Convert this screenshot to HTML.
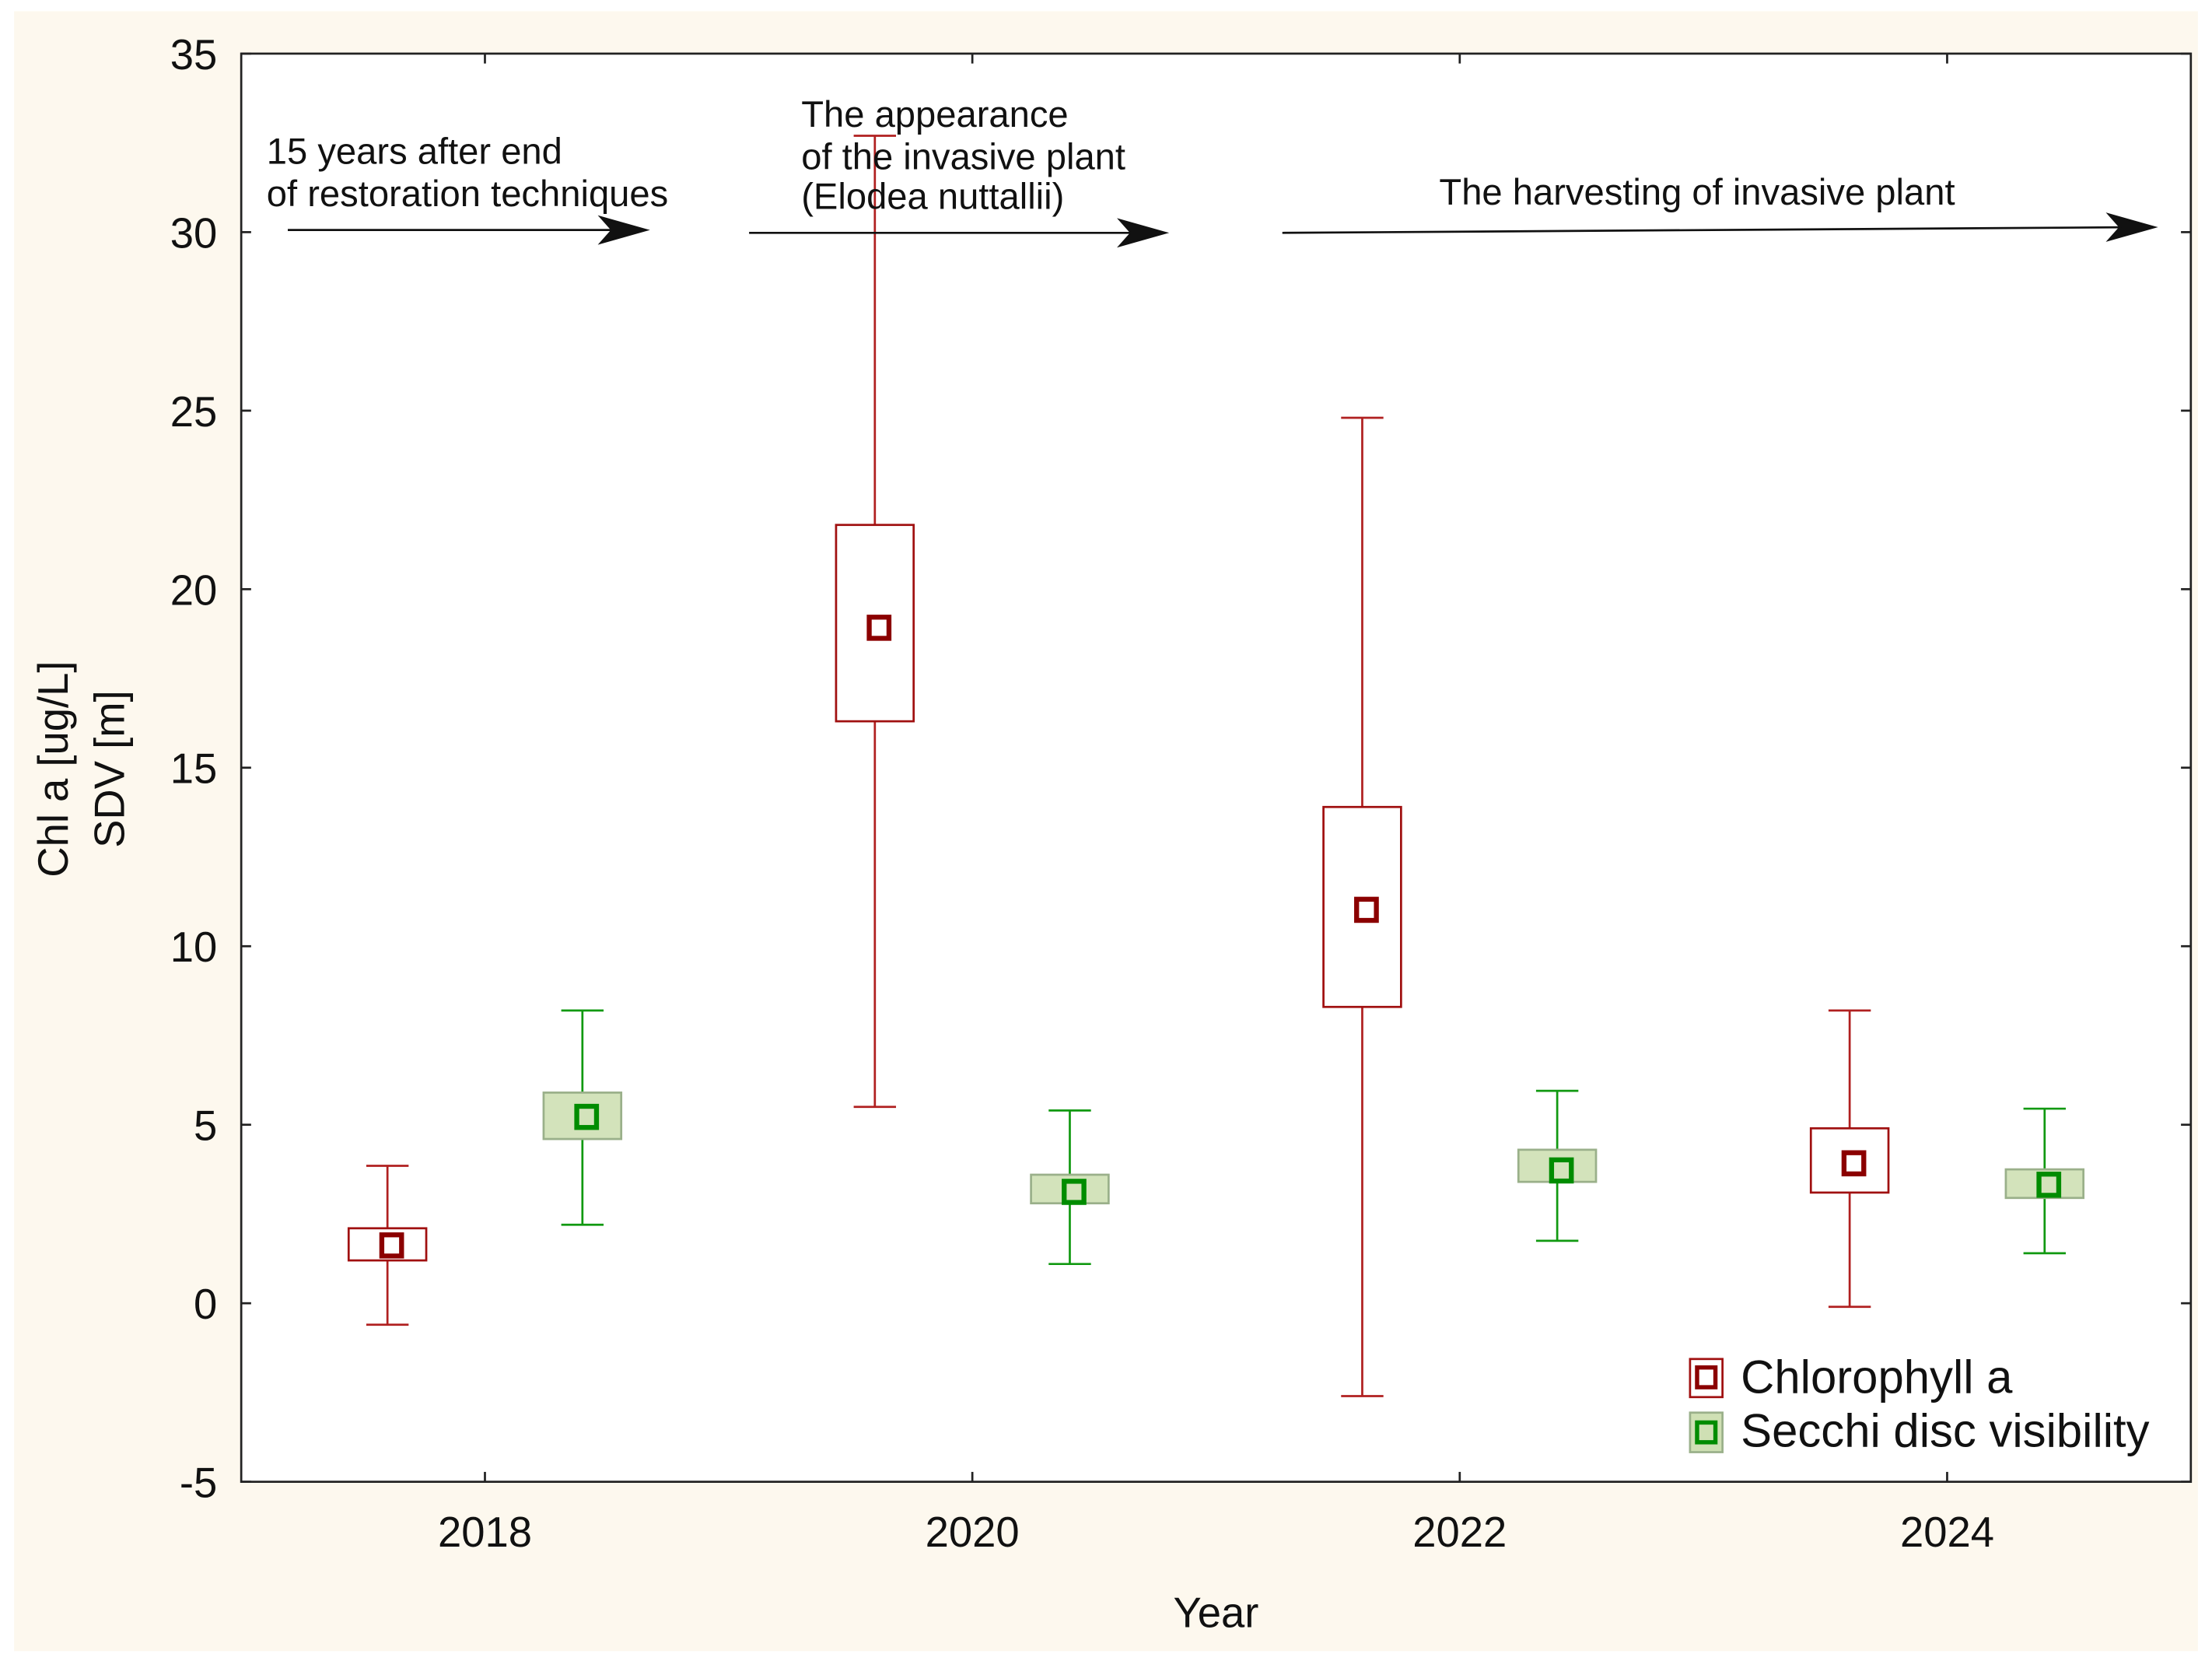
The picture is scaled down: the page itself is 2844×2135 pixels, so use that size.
<!DOCTYPE html>
<html><head><meta charset="utf-8"><style>
html,body{margin:0;padding:0;background:#fff;}
svg{display:block;font-family:"Liberation Sans",sans-serif;}
</style></head><body>
<svg id="chart" width="2844" height="2135" viewBox="0 0 1568 1177" preserveAspectRatio="none" xmlns="http://www.w3.org/2000/svg">
<rect x="10" y="8" width="1548" height="1162" fill="#fdf8ee"/>
<rect x="171" y="38" width="1382" height="1012" fill="#fff" stroke="#222" stroke-width="1.5"/>
<g id="axes"></g>
<g id="marks"></g>
<g font-size="26" fill="#111">
<text x="189" y="116">15 years after end</text>
<text x="189" y="146">of restoration techniques</text>
<text x="568" y="90">The appearance</text>
<text x="568" y="120">of the invasive plant</text>
<text x="568" y="148">(Elodea nuttallii)</text>
<text x="1203" y="145" text-anchor="middle">The harvesting of invasive plant</text>
<g stroke="#111" stroke-width="1.5" fill="#111">
<line x1="204" y1="163" x2="445" y2="163"/>
<polygon points="458,163 426,154 434,163 426,172"/>
<line x1="531" y1="165" x2="813" y2="165"/>
<polygon points="826,165 794,156 802,165 794,174"/>
<line x1="909" y1="165" x2="1514" y2="161"/>
<polygon points="1527,161 1495,152 1503,161 1495,170"/>
</g>
</g>
<g font-size="30" fill="#111">
<text transform="translate(48,545) rotate(-90)" text-anchor="middle">Chl a [ug/L]</text>
<text transform="translate(88,545) rotate(-90)" text-anchor="middle">SDV [m]</text>
</g>
<text x="862" y="1153" font-size="30" text-anchor="middle" fill="#111">Year</text>
<g>
<g>
<rect x="1198" y="963" width="23" height="27" fill="#fff" stroke="#a01010" stroke-width="1.5"/>
<rect x="1203" y="969" width="13" height="14" fill="#fff" stroke="#8b0000" stroke-width="3"/>
<text x="1234" y="987" font-size="33" fill="#111">Chlorophyll a</text>
</g>
<g>
<rect x="1198" y="1001" width="23" height="28" fill="#cfe0b4" stroke="#9ab08a" stroke-width="1.5"/>
<rect x="1203" y="1008" width="13" height="14" fill="#cfe0b4" stroke="#008c00" stroke-width="3"/>
<text x="1234" y="1025" font-size="33" fill="#111">Secchi disc visibility</text>
</g>
</g>
</svg>
<script>
const chlYears = [2017.6, 2019.6, 2021.6, 2023.6];
const chlMean = [1.6, 18.9, 11.0, 3.9];
const chlBoxLow = [1.2, 16.3, 8.3, 3.1];
const chlBoxHigh = [2.1, 21.8, 13.9, 4.9];
const chlWhiskLow = [-0.6, 5.5, -2.6, -0.1];
const chlWhiskHigh = [3.85, 32.7, 24.8, 8.2];
const sdvYears = [2018.4, 2020.4, 2022.4, 2024.4];
const sdvMean = [5.2, 3.1, 3.7, 3.3];
const sdvBoxLow = [4.6, 2.8, 3.4, 2.95];
const sdvBoxHigh = [5.9, 3.6, 4.3, 3.75];
const sdvWhiskLow = [2.2, 1.1, 1.75, 1.4];
const sdvWhiskHigh = [8.2, 5.4, 5.95, 5.45];
const yTicks = [-5, 0, 5, 10, 15, 20, 25, 30, 35];
const xTicks = [2018, 2020, 2022, 2024];

const NS = "http://www.w3.org/2000/svg";
const L = 171, R = 1553, T = 38, B = 1050;
const xS = v => L + (v - 2017) / 8 * (R - L);
const yS = v => B - (v + 5) / 40 * (B - T);
function mk(tag, attrs, parent) {
  const e = document.createElementNS(NS, tag);
  for (const k in attrs) e.setAttribute(k, attrs[k]);
  parent.appendChild(e);
  return e;
}
const axes = document.getElementById('axes');
const marks = document.getElementById('marks');
yTicks.forEach(v => {
  const y = yS(v);
  const l1 = mk('line', {x1: L, x2: L + 7, y1: y, y2: y, stroke: '#222', 'stroke-width': 1.5}, axes);
  
  
  const l2 = mk('line', {x1: R - 7, x2: R, y1: y, y2: y, stroke: '#222', 'stroke-width': 1.5}, axes);
  
  
  const t = mk('text', {x: 154, y: y + 11, 'font-size': 30, 'text-anchor': 'end', fill: '#111'}, axes);
  t.textContent = v;
  
  
});
xTicks.forEach(v => {
  const x = xS(v);
  const l1 = mk('line', {x1: x, x2: x, y1: B - 7, y2: B, stroke: '#222', 'stroke-width': 1.5}, axes);
  
  
  const l2 = mk('line', {x1: x, x2: x, y1: T, y2: T + 7, stroke: '#222', 'stroke-width': 1.5}, axes);
  
  
  const t = mk('text', {x: x, y: 1096, 'font-size': 30, 'text-anchor': 'middle', fill: '#111'}, axes);
  t.textContent = v;
  
  
});
function series(years, mean, bl, bh, wl, wh, lineCol, boxFill, boxStroke, markCol, name) {
  const hw = 27.5, cap = 15;
  years.forEach((yr, i) => {
    const x = xS(yr);
    const g = mk('g', {}, marks);
    
    
    mk('line', {x1: x, x2: x, y1: yS(wl[i]), y2: yS(wh[i]), stroke: lineCol, 'stroke-width': 1.5}, g);
    mk('line', {x1: x - cap, x2: x + cap, y1: yS(wl[i]), y2: yS(wl[i]), stroke: lineCol, 'stroke-width': 1.5}, g);
    mk('line', {x1: x - cap, x2: x + cap, y1: yS(wh[i]), y2: yS(wh[i]), stroke: lineCol, 'stroke-width': 1.5}, g);
    mk('rect', {x: x - hw, y: yS(bh[i]), width: 2 * hw, height: yS(bl[i]) - yS(bh[i]), fill: boxFill, stroke: boxStroke, 'stroke-width': 1.5}, g);
    mk('rect', {x: x - 7 + 3, y: yS(mean[i]) - 8, width: 14, height: 15, fill: boxFill, stroke: markCol, 'stroke-width': 3.5}, g);
  });
}
series(chlYears, chlMean, chlBoxLow, chlBoxHigh, chlWhiskLow, chlWhiskHigh, '#b02020', '#fff', '#a01010', '#8b0000', 'chlorophyll-box');
series(sdvYears, sdvMean, sdvBoxLow, sdvBoxHigh, sdvWhiskLow, sdvWhiskHigh, '#119911', '#d3e3bb', '#9ab08a', '#008c00', 'secchi-box');
</script>
</body></html>
